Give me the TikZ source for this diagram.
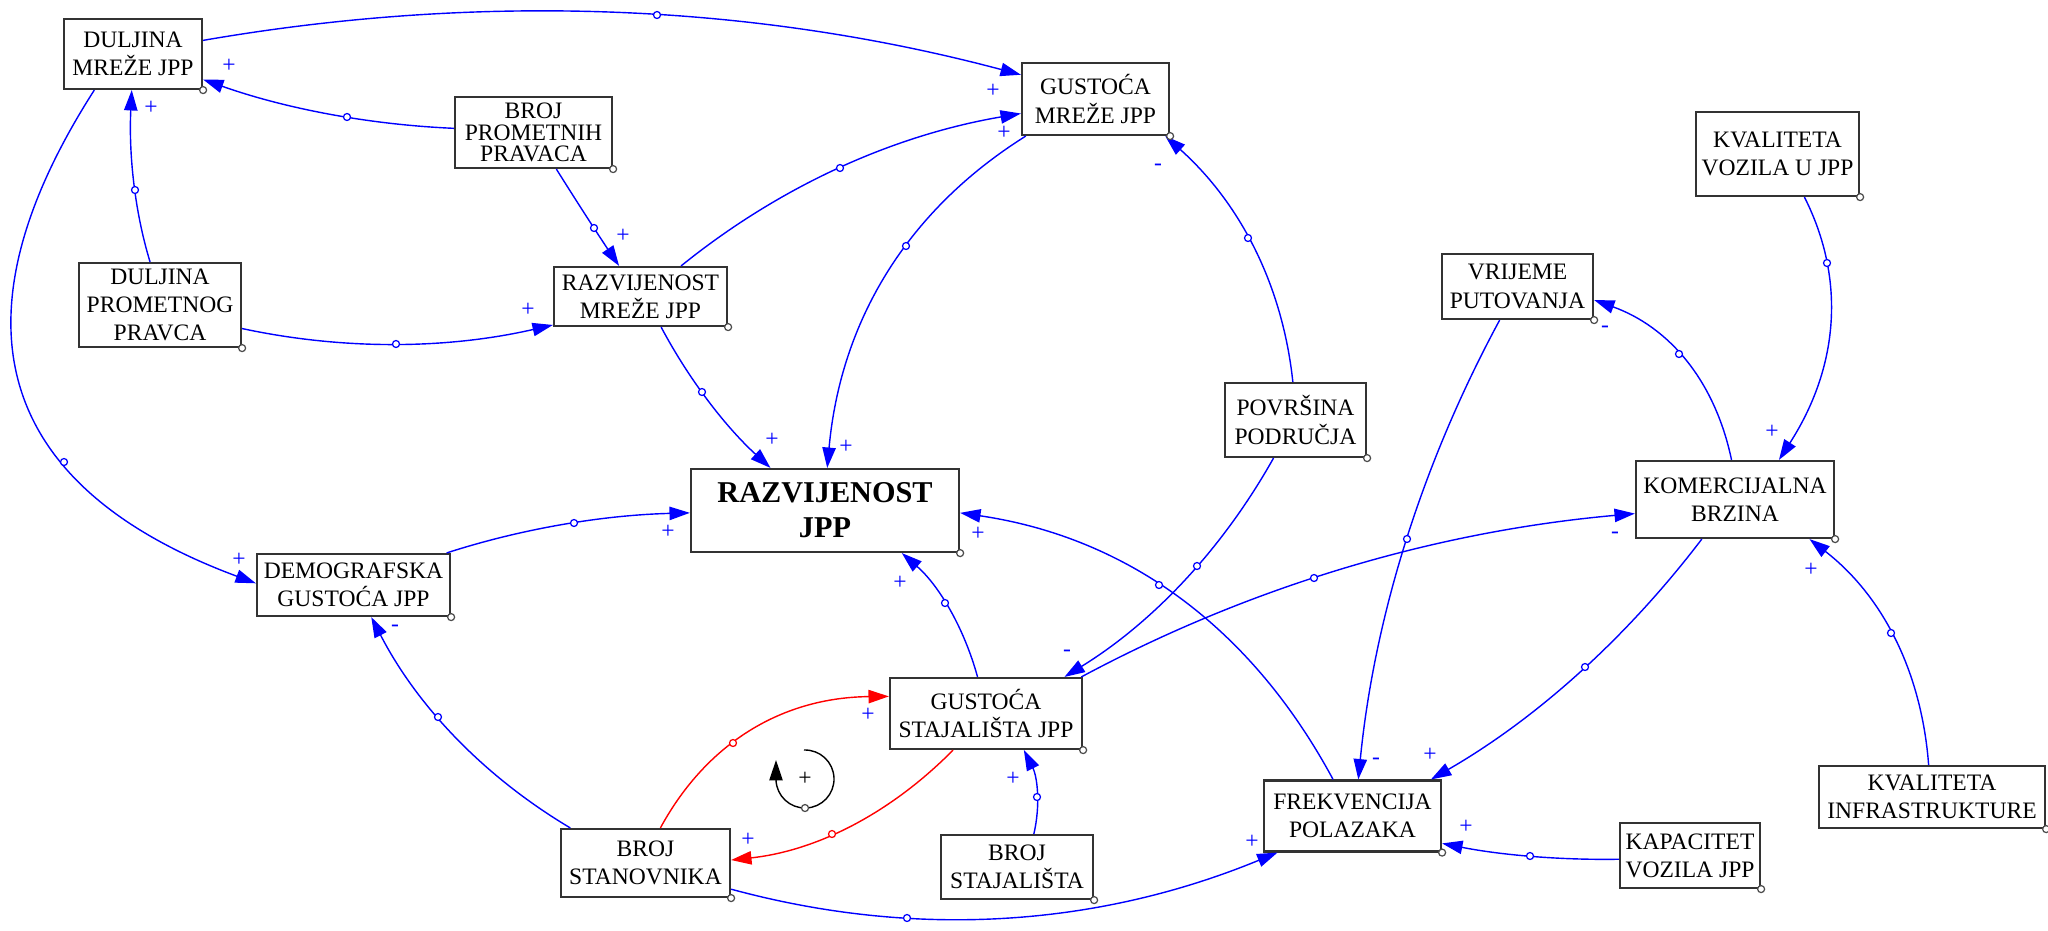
\documentclass[tikz,border=0pt]{standalone}
\usepackage{fontspec}
\setmainfont{Liberation Serif}
\usetikzlibrary{arrows.meta}
\usetikzlibrary{calc}

\begin{document}
\begin{tikzpicture}[
      x=0.01cm, y=-0.01cm,
      var/.style={draw=black!80, line width=0.6pt, inner sep=0pt, align=center,
        font=\fontsize{6.7}{8}\selectfont},
      link/.style={line width=0.4pt, -{Triangle[length=5.8pt,width=3.8pt]}},
      sign/.style={inner sep=0pt, text=blue, font=\fontsize{6.7}{8}\selectfont},
      knot/.style={circle, draw=blue, fill=white, line width=0.35pt, inner sep=0pt, minimum size=0.07cm},
      corner/.style={knot, draw=black!70}]

        \useasboundingbox (0,0) rectangle (2048,930);

        % variables
        \node[var, minimum width=1.38cm, minimum height=0.70cm] (dmj) at (133,54) {DULJINA\\MREŽE JPP};
        \node[var, minimum width=1.57cm, minimum height=0.71cm, font=\fontsize{6.7}{6.1}\selectfont] (bpp) at (533.5,132.5) {BROJ\\PROMETNIH\\PRAVACA};
        \node[var, minimum width=1.62cm, minimum height=0.84cm] (dpp) at (160,305) {DULJINA\\PROMETNOG\\PRAVCA};
        \node[var, minimum width=1.73cm, minimum height=0.59cm] (rmj) at (640.5,296.5) {RAZVIJENOST\\MREŽE JPP};
        \node[var, minimum width=1.47cm, minimum height=0.72cm] (gmj) at (1095.5,99) {GUSTOĆA\\MREŽE JPP};
        \node[var, minimum width=1.41cm, minimum height=0.74cm] (pp) at (1295.5,420) {POVRŠINA\\PODRUČJA};
        \node[var, minimum width=2.68cm, minimum height=0.83cm, font=\bfseries\fontsize{8.6}{10}\selectfont] (rj) at (825,510.5) {RAZVIJENOST\\JPP};
        \node[var, minimum width=1.92cm, minimum height=0.71cm] (gsj) at (986,713.5) {GUSTOĆA\\STAJALIŠTA JPP};
        \node[var, minimum width=1.52cm, minimum height=0.64cm] (bst) at (1017,867) {BROJ\\STAJALIŠTA};
        \node[var, minimum width=1.69cm, minimum height=0.68cm] (bs) at (645.5,863) {BROJ\\STANOVNIKA};
        \node[var, minimum width=1.93cm, minimum height=0.62cm] (dg) at (353.5,585) {DEMOGRAFSKA\\GUSTOĆA JPP};
        \node[var, minimum width=1.77cm, minimum height=0.71cm] (fp) at (1352.5,816) {FREKVENCIJA\\POLAZAKA};
        \node[var, minimum width=1.40cm, minimum height=0.65cm] (kvj) at (1690,855.5) {KAPACITET\\VOZILA JPP};
        \node[var, minimum width=2.26cm, minimum height=0.62cm] (ki) at (1932,797) {KVALITETA\\INFRASTRUKTURE};
        \node[var, minimum width=1.98cm, minimum height=0.77cm] (kb) at (1735,499.5) {KOMERCIJALNA\\BRZINA};
        \node[var, minimum width=1.51cm, minimum height=0.65cm] (vp) at (1517.5,286.5) {VRIJEME\\PUTOVANJA};
        \node[var, minimum width=1.63cm, minimum height=0.84cm] (kvu) at (1777.5,154) {KVALITETA\\VOZILA U JPP};

        % points the links pass through
        \coordinate (m1) at (657,15);    \coordinate (m2) at (347,117);
        \coordinate (m3) at (135,190);   \coordinate (m4) at (396,344);
        \coordinate (m5) at (594,228);   \coordinate (m6) at (840,168);
        \coordinate (m7) at (906,246);   \coordinate (m8) at (702,392);
        \coordinate (m9) at (1248,238);  \coordinate (m10) at (1197,566);
        \coordinate (m11) at (1314,578); \coordinate (m12) at (1407,539);
        \coordinate (m13) at (1679,354); \coordinate (m14) at (1827,263);
        \coordinate (m15) at (1585,667); \coordinate (m16) at (1891,633);
        \coordinate (m17) at (1530,856); \coordinate (m18) at (1159,585);
        \coordinate (m19) at (907,918);  \coordinate (m20) at (945,603);
        \coordinate (m21) at (1037,797); \coordinate (m22) at (733,743);
        \coordinate (m23) at (832,834);  \coordinate (m24) at (438,717);
        \coordinate (m25) at (64,462);   \coordinate (m26) at (574,523);

        % links
        \foreach \va/\vm/\vb/\vt/\vc in {
            dmj.11/m1/gmj.162/0.55/blue,   bpp.177/m2/dmj.340/0.42/blue,
            dpp.103/m3/dmj.268/0.45/blue,  dpp.344/m4/rmj.198/0.5/blue,
            bpp.302/m5/rmj.125/0.6/blue,   rmj.37/m6/gmj.191/0.5/blue,
            gmj.208/m7/rj.87/0.41/blue,    rmj.304/m8/rj.142/0.43/blue,
            pp.94/m9/gmj.332/0.54/blue,    pp.240/m10/gsj.25/0.43/blue,
            gsj.21/m11/kb.188/0.44/blue,   vp.242/m12/fp.81/0.49/blue,
            kb.95/m13/vp.350/0.54/blue,    kvu.302/m14/kb.42/0.26/blue,
            kb.230/m15/fp.25/0.47/blue,    ki.96/m16/kb.332/0.52/blue,
            kvj.183/m17/fp.343/0.5/blue,   fp.118/m18/rj.359/0.55/blue,
            bs.343/m19/fp.206/0.32/blue,   gsj.103/m20/rj.331/0.54/blue,
            bst.63/m21/gsj.316/0.43/blue,  bs.67/m22/gsj.170/0.41/red,
            gsj.228/m23/bs.2/0.58/red,     bs.155/m24/dg.299/0.59/blue,
            dmj.223/m25/dg.179/0.66/blue,  dg.19/m26/rj.181/0.54/blue}
        {
          \pgfmathsetmacro{\ka}{(1-\vt)/(2*\vt)}
          \pgfmathsetmacro{\kb}{\vt/(2*(1-\vt))}
          \coordinate (q) at ($(\vm) + \ka*($(\vm)-(\va)$) + \kb*($(\vm)-(\vb)$)$);
          \draw[link, \vc] (\va) .. controls ($(\va)!0.6667!(q)$) and ($(\vb)!0.6667!(q)$) .. (\vb);
        }

        \foreach \i in {1,...,21,24,25,26}
          \node[knot] (k\i) at (m\i) {};
        \foreach \i in {22,23}
          \node[knot, draw=red] (k\i) at (m\i) {};

        \foreach \v in {dmj,bpp,dpp,rmj,gmj,pp,rj,gsj,bst,bs,dg,fp,kvj,ki,kb,vp,kvu}
          \node[corner] (c\v) at (\v.south east) {};

        % polarities
        \node[sign] (s1) at (993,91) {+};
        \node[sign] (s2) at (229,66) {+};
        \node[sign] (s3) at (151,108) {+};
        \node[sign] (s4) at (528,310) {+};
        \node[sign] (s5) at (623,236) {+};
        \node[sign] (s6) at (1004,133) {+};
        \node[sign] (s7) at (846,447) {+};
        \node[sign] (s8) at (772,440) {+};
        \node[sign] (s9) at (1158,167) {-};
        \node[sign] (s10) at (1067,653) {-};
        \node[sign] (s11) at (1615,535) {-};
        \node[sign] (s12) at (1376,761) {-};
        \node[sign] (s13) at (1605,329) {-};
        \node[sign] (s14) at (1772,432) {+};
        \node[sign] (s15) at (1430,755) {+};
        \node[sign] (s16) at (1811,570) {+};
        \node[sign] (s17) at (1466,827) {+};
        \node[sign] (s18) at (978,534) {+};
        \node[sign] (s19) at (1252,842) {+};
        \node[sign] (s20) at (900,583) {+};
        \node[sign] (s21) at (1013,779) {+};
        \node[sign] (s22) at (868,715) {+};
        \node[sign] (s23) at (748,840) {+};
        \node[sign] (s24) at (395,628) {-};
        \node[sign] (s25) at (239,560) {+};
        \node[sign] (s26) at (668,532) {+};

        % loop
        \coordinate (lp) at (805,779);
        \draw[line width=0.4pt, -{Triangle[length=5.8pt,width=3.8pt]}]
          ([shift={(92:0.29cm)}]lp) arc[start angle=92, end angle=-178, radius=0.29cm] -- ++(0,-20);
        \node[corner] (lpk) at ([shift={(-90:0.29cm)}]lp) {};
        \node[sign, text=black] (lps) at (lp) {+};

      \end{tikzpicture}
\end{document}
